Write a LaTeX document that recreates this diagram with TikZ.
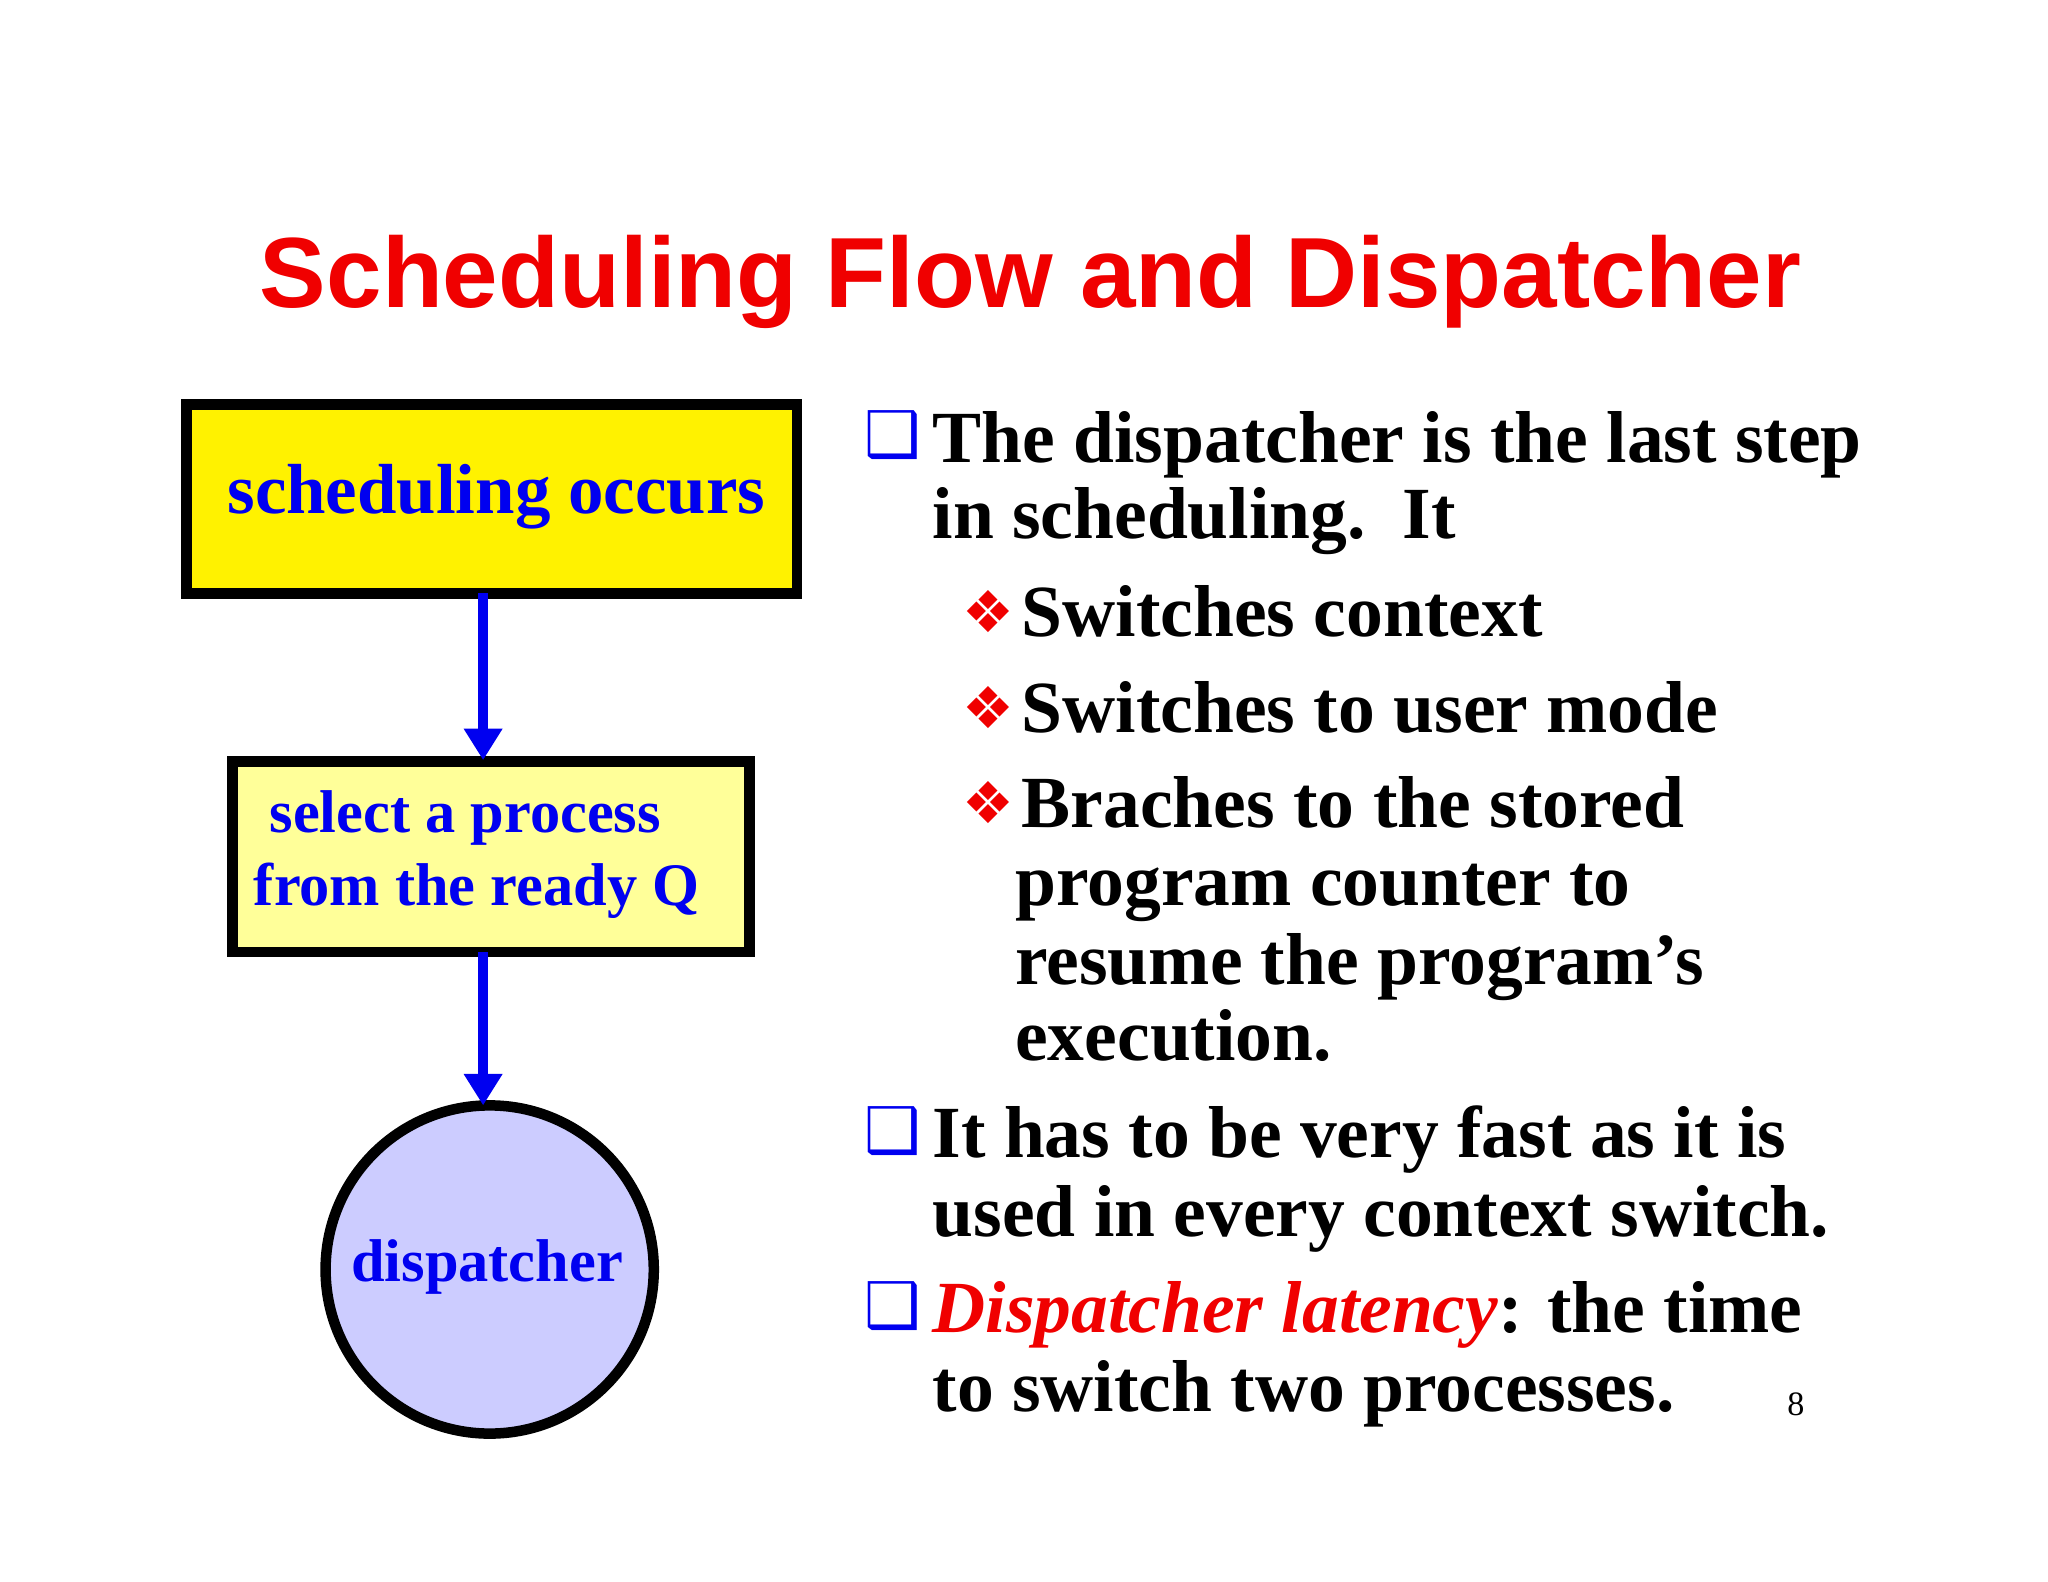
\documentclass[tikz,border=0pt]{standalone}
\usepackage{fontspec}
\setmainfont{Liberation Serif}
\newfontfamily\titlefont{Liberation Sans}
\newfontfamily\symfont{DejaVu Sans}
\usetikzlibrary{arrows.meta}
\definecolor{myblue}{RGB}{0,0,240}
\definecolor{myred}{RGB}{240,0,0}
\tikzset{
  x=0.5pt,y=-0.5pt,
  box/.style={draw=black,line width=4pt,inner sep=0pt},
  flow/.style={draw=myblue,line width=4pt,-{Triangle[length=12pt,width=14pt]}},
  txt/.style={anchor=base west,inner sep=0pt,font=\fontsize{28}{32}\selectfont\bfseries},
  bul/.style={anchor=base west,inner sep=0pt,text=myblue,font=\symfont\fontsize{24}{28}\selectfont},
  sub/.style={anchor=base west,inner sep=0pt,text=myred,font=\symfont\fontsize{22}{26}\selectfont},
}
\begin{document}
\begin{tikzpicture}
\useasboundingbox[fill=white] (0,0) rectangle (1560,1205);
\node[text=myred,font=\titlefont\fontsize{38}{44}\selectfont\bfseries] (title) at (785,215) {Scheduling Flow and Dispatcher};
\draw[box,fill=yellow] (142,308) rectangle (607,452);
\node[text=myblue,font=\fontsize{27}{32}\selectfont\bfseries] (b1) at (378,378) {scheduling occurs};
\draw[box,fill={rgb,255:red,255;green,255;blue,153}] (177,580) rectangle (571,725);
\node[text=myblue,font=\fontsize{23}{28}\selectfont\bfseries,anchor=base west,inner sep=0pt] (b2a) at (205,634) {select a process};
\node[text=myblue,font=\fontsize{23}{28}\selectfont\bfseries,anchor=base west,inner sep=0pt] (b2b) at (193,690) {from the ready Q};
\draw[box,fill={rgb,255:red,204;green,204;blue,255}] (373,967) circle (125);
\node[text=myblue,font=\fontsize{23}{28}\selectfont\bfseries] (c) at (371,965) {dispatcher};
\coordinate (a1s) at (368,452); \coordinate (a1e) at (368,579);
\coordinate (a2s) at (368,725); \coordinate (a2e) at (368,842);
\draw[flow] (a1s) -- (a1e);
\draw[flow] (a2s) -- (a2e);
\node[bul] (q1) at (658,348) {❑};
\node[txt] (l1) at (710,352) {The dispatcher is the last step};
\node[txt] (l2) at (710,410) {in scheduling.\ \ It};
\node[sub] (s1) at (733,482) {❖};
\node[txt] (l3) at (778,485) {Switches context};
\node[sub] (s2) at (733,555) {❖};
\node[txt] (l4) at (778,558) {Switches to user mode};
\node[sub] (s3) at (733,627) {❖};
\node[txt] (l5) at (778,630) {Braches to the stored};
\node[txt] (l6) at (773,690) {program counter to};
\node[txt] (l7) at (773,750) {resume the program’s};
\node[txt] (l8) at (773,808) {execution.};
\node[bul] (q2) at (658,878) {❑};
\node[txt] (l9) at (710,882) {It has to be very fast as it is};
\node[txt] (l10) at (710,942) {used in every context switch.};
\node[bul] (q3) at (658,1011) {❑};
\node[txt] (l11) at (710,1015) {\textcolor{myred}{\itshape Dispatcher latency}: the time};
\node[txt] (l12) at (710,1075) {to switch two processes.};
\node[anchor=base,inner sep=0pt,font=\fontsize{13}{15}\selectfont] (pg) at (1368,1078) {8};
\end{tikzpicture}
\end{document}
